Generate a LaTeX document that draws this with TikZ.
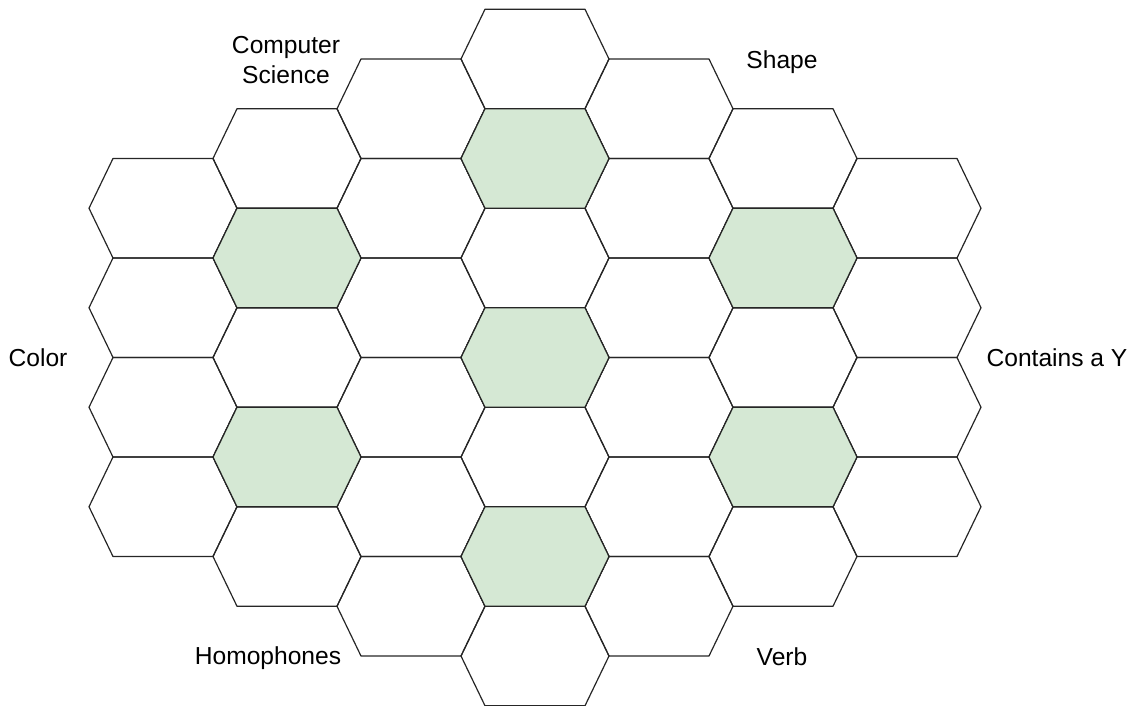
\documentclass[tikz,border=0pt]{standalone}
\usepackage{fontspec}
\setmainfont{Liberation Sans}
\usetikzlibrary{positioning}
\definecolor{hitgreen}{HTML}{D5E8D4}
\tikzset{
    cell/.style={draw=black!85, line width=0.6pt, line join=round},
    hit/.style={cell, fill=hitgreen},
    topic/.style={font=\fontsize{12.3}{14.7}\selectfont, align=center, inner sep=0pt}
}
\newcommand{\hexcell}[3][cell]{\draw[#1, shift={(#2,#3)}] (-74,0) -- (-50,-49.75) -- (50,-49.75) -- (74,0) -- (50,49.75) -- (-50,49.75) -- cycle;}

\begin{document}
\begin{tikzpicture}[x=0.5pt, y=-0.5pt]
    \useasboundingbox (0,0) rectangle (1132,706);
    \foreach \c/\n [evaluate=\c as \cx using 163+124*\c, evaluate=\c as \cy using 59+49.75*abs(\c-3)] in {0/4,1/5,2/6,3/7,4/6,5/5,6/4}
        {\foreach \r in {1,...,\n} {\hexcell{\cx}{\cy+99.5*(\r-1)}}}
    \hexcell[hit]{535}{158.5}
    \hexcell[hit]{535}{357.5}
    \hexcell[hit]{535}{556.5}
    \hexcell[hit]{287}{258}
    \hexcell[hit]{287}{457}
    \hexcell[hit]{783}{258}
    \hexcell[hit]{783}{457}
    \node[topic](cs) at (286,60) {Computer\\Science};
    \node[topic, anchor=base](shape) at (782,69) {Shape};
    \node[topic, anchor=base](color) at (38,366) {Color};
    \node[topic, anchor=base](ycont) at (1057,366) {Contains a Y};
    \node[topic, anchor=base](homo) at (268,664) {Homophones};
    \node[topic, anchor=base](verb) at (782,665) {Verb};
\end{tikzpicture}
\end{document}
